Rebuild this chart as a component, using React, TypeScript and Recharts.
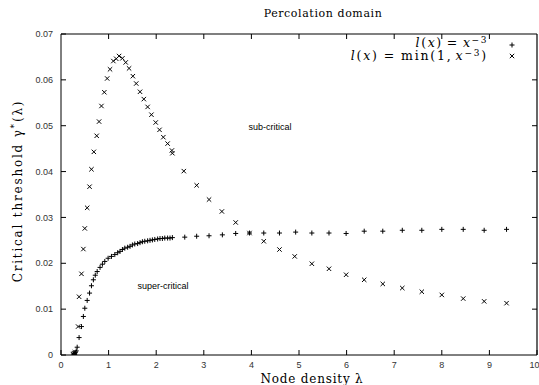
import React from 'react';
import { ScatterChart, Scatter, XAxis, YAxis } from 'recharts';

// l(x) = x^-3  ("+" markers)
const powerLawLambda = [0.26, 0.28, 0.30, 0.32, 0.34, 0.38, 0.43, 0.47, 0.50, 0.55, 0.60, 0.64, 0.68, 0.72, 0.76, 0.82, 0.87, 0.92, 0.99, 1.06, 1.13, 1.19, 1.24, 1.29, 1.34, 1.40, 1.45, 1.50, 1.55, 1.61, 1.66, 1.71, 1.76, 1.82, 1.87, 1.92, 1.97, 2.03, 2.08, 2.13, 2.18, 2.24, 2.29, 2.34, 2.60, 2.85, 3.11, 3.39, 3.67, 3.96, 4.26, 4.59, 4.93, 5.27, 5.63, 5.99, 6.37, 6.76, 7.17, 7.58, 8.00, 8.45, 8.89, 9.36];
const powerLawGamma = [0.0002, 0.0003, 0.0005, 0.0009, 0.0017, 0.0038, 0.0062, 0.0084, 0.0102, 0.0119, 0.0135, 0.0151, 0.0164, 0.0174, 0.0182, 0.0191, 0.0198, 0.0204, 0.0211, 0.0215, 0.0219, 0.0223, 0.0226, 0.0230, 0.0233, 0.0235, 0.0237, 0.0240, 0.0242, 0.0243, 0.0245, 0.0247, 0.0248, 0.0249, 0.0250, 0.0251, 0.0252, 0.0253, 0.0254, 0.0254, 0.0255, 0.0255, 0.0255, 0.0256, 0.0257, 0.0259, 0.0260, 0.0262, 0.0265, 0.0266, 0.0266, 0.0266, 0.0268, 0.0266, 0.0266, 0.0265, 0.0270, 0.0270, 0.0272, 0.0272, 0.0274, 0.0274, 0.0272, 0.0274];

// l(x) = min(1, x^-3)  ("x" markers)
const minLawLambda = [0.25, 0.27, 0.29, 0.31, 0.36, 0.38, 0.43, 0.47, 0.50, 0.55, 0.60, 0.64, 0.69, 0.75, 0.80, 0.85, 0.91, 0.97, 1.03, 1.10, 1.16, 1.22, 1.29, 1.36, 1.43, 1.51, 1.58, 1.66, 1.74, 1.82, 1.90, 1.99, 2.07, 2.15, 2.24, 2.33, 2.34, 2.58, 2.85, 3.11, 3.38, 3.67, 3.96, 4.26, 4.59, 4.91, 5.27, 5.63, 5.99, 6.37, 6.76, 7.17, 7.58, 8.00, 8.45, 8.89, 9.36];
const minLawGamma = [0.0002, 0.0004, 0.0006, 0.0003, 0.0062, 0.0127, 0.0177, 0.0231, 0.0276, 0.0321, 0.0367, 0.0405, 0.0443, 0.0478, 0.0509, 0.0543, 0.0573, 0.0603, 0.0623, 0.0641, 0.0646, 0.0652, 0.0647, 0.0638, 0.0625, 0.0608, 0.0592, 0.0574, 0.0558, 0.0541, 0.0524, 0.0507, 0.0491, 0.0475, 0.0461, 0.0446, 0.0440, 0.0401, 0.0370, 0.0339, 0.0313, 0.0289, 0.0266, 0.0248, 0.0230, 0.0215, 0.0199, 0.0188, 0.0175, 0.0164, 0.0155, 0.0146, 0.0138, 0.0131, 0.0123, 0.0117, 0.0113];

const xTicks = [0, 1, 2, 3, 4, 5, 6, 7, 8, 9, 10];
const yTicks = [0, 0.01, 0.02, 0.03, 0.04, 0.05, 0.06, 0.07];
const X_MAX = 10;
const Y_MAX = 0.07;

const powerLawData = powerLawLambda.map((x, i) => ({ x, y: powerLawGamma[i] }));
const minLawData = minLawLambda.map((x, i) => ({ x, y: minLawGamma[i] }));

// chart layout
const W = 539, H = 385;
const PLOT_L = 61, PLOT_R = 537, PLOT_T = 34, PLOT_B = 355;
const TICK = 5;

const PlusShape = (props: any) => {
  const { cx, cy } = props;
  const s = 2.5;
  return <path d={`M${cx - s},${cy}H${cx + s}M${cx},${cy - s}V${cy + s}`} stroke="#000" strokeWidth={1} fill="none" />;
};
const CrossShape = (props: any) => {
  const { cx, cy } = props;
  const s = 2.2;
  return <path d={`M${cx - s},${cy - s}L${cx + s},${cy + s}M${cx + s},${cy - s}L${cx - s},${cy + s}`} stroke="#000" strokeWidth={1} fill="none" />;
};

const tickStyle = { fontSize: 9, fill: '#333', fontFamily: 'Liberation Sans, Arial, sans-serif' };
const serif = 'DejaVu Serif, serif';

// mirrored frame ticks (top and right edges)
const frameX = (t: number) => PLOT_L + (t / X_MAX) * (PLOT_R - PLOT_L);
const frameY = (t: number) => PLOT_B - (t / Y_MAX) * (PLOT_B - PLOT_T);
const mirrorTicks =
  xTicks.slice(1, -1).map((t) => `M${frameX(t)},${PLOT_T}V${PLOT_T + TICK}`).join('') +
  yTicks.slice(1, -1).map((t) => `M${PLOT_R},${frameY(t)}H${PLOT_R - TICK}`).join('');

export default function App() {
  return (
    <div style={{ position: 'absolute', left: 0, top: 0, width: W, height: H, background: '#fff' }}>
      <ScatterChart width={W} height={H} margin={{ top: PLOT_T, right: W - PLOT_R, bottom: 0, left: 0 }}>
        <XAxis xAxisId="b" type="number" dataKey="x" domain={[0, X_MAX]} ticks={xTicks} orientation="bottom" height={H - PLOT_B}
          tickSize={-TICK} tickMargin={12} axisLine={{ stroke: '#000' }} tickLine={{ stroke: '#000' }} tick={tickStyle}
          tickFormatter={(v: number) => String(v)} allowDataOverflow />
        <YAxis yAxisId="l" type="number" dataKey="y" domain={[0, Y_MAX]} ticks={yTicks} orientation="left" width={PLOT_L}
          tickSize={-TICK} tickMargin={13} axisLine={{ stroke: '#000' }} tickLine={{ stroke: '#000' }} tick={tickStyle}
          tickFormatter={(v: number) => (v === 0 ? '0' : v.toFixed(2))} allowDataOverflow />
        <Scatter data={powerLawData} xAxisId="b" yAxisId="l" shape={PlusShape} isAnimationActive={false} />
        <Scatter data={minLawData} xAxisId="b" yAxisId="l" shape={CrossShape} isAnimationActive={false} />
      </ScatterChart>
      <svg width={W} height={H} style={{ position: 'absolute', left: 0, top: 0, pointerEvents: 'none' }}>
        <line x1={PLOT_L} y1={PLOT_T} x2={PLOT_R} y2={PLOT_T} stroke="#000" strokeWidth={1.2} />
        <line x1={PLOT_R} y1={PLOT_T} x2={PLOT_R} y2={PLOT_B} stroke="#000" strokeWidth={1.2} />
        <path d={mirrorTicks} stroke="#000" strokeWidth={1} fill="none" />
        <text x={323} y={17} textAnchor="middle" fontFamily={serif} fontSize={11} letterSpacing={0.6} fill="#000">Percolation domain</text>
        <text x={312} y={383} textAnchor="middle" fontFamily={serif} fontSize={12} letterSpacing={0.8} fill="#000">Node density λ</text>
        <text transform="translate(22,191) rotate(-90)" textAnchor="middle" fontFamily={serif} fontSize={12} letterSpacing={1.8} fill="#000">
          Critical threshold γ<tspan dy={-5} fontSize={9}>*</tspan><tspan dy={5}>(λ)</tspan>
        </text>
        <text x={270} y={130} textAnchor="middle" fontFamily="Liberation Sans, Arial, sans-serif" fontSize={9} fill="#000">sub-critical</text>
        <text x={163} y={289} textAnchor="middle" fontFamily="Liberation Sans, Arial, sans-serif" fontSize={9} fill="#000">super-critical</text>
        <text x={488} y={47} textAnchor="end" fontFamily={serif} fontSize={12.5} letterSpacing={1.6} fill="#000">
          <tspan fontStyle="italic">l</tspan>(<tspan fontStyle="italic">x</tspan>)<tspan dx={4}>=</tspan><tspan dx={4} fontStyle="italic">x</tspan><tspan dy={-4} fontSize={9}>−3</tspan>
        </text>
        <text x={488} y={60} textAnchor="end" fontFamily={serif} fontSize={12.5} letterSpacing={1.8} fill="#000">
          <tspan fontStyle="italic">l</tspan>(<tspan fontStyle="italic">x</tspan>)<tspan dx={5}>=</tspan><tspan dx={5}>min(1,</tspan><tspan dx={3} fontStyle="italic">x</tspan><tspan dy={-4} fontSize={9}>−3</tspan><tspan dy={4}>)</tspan>
        </text>
        <path d="M509.5,45H514.5M512,42.5V47.5" stroke="#000" strokeWidth={1} fill="none" />
        <path d="M509.8,53.8L514.2,58.2M514.2,53.8L509.8,58.2" stroke="#000" strokeWidth={1} fill="none" />
      </svg>
    </div>
  );
}
